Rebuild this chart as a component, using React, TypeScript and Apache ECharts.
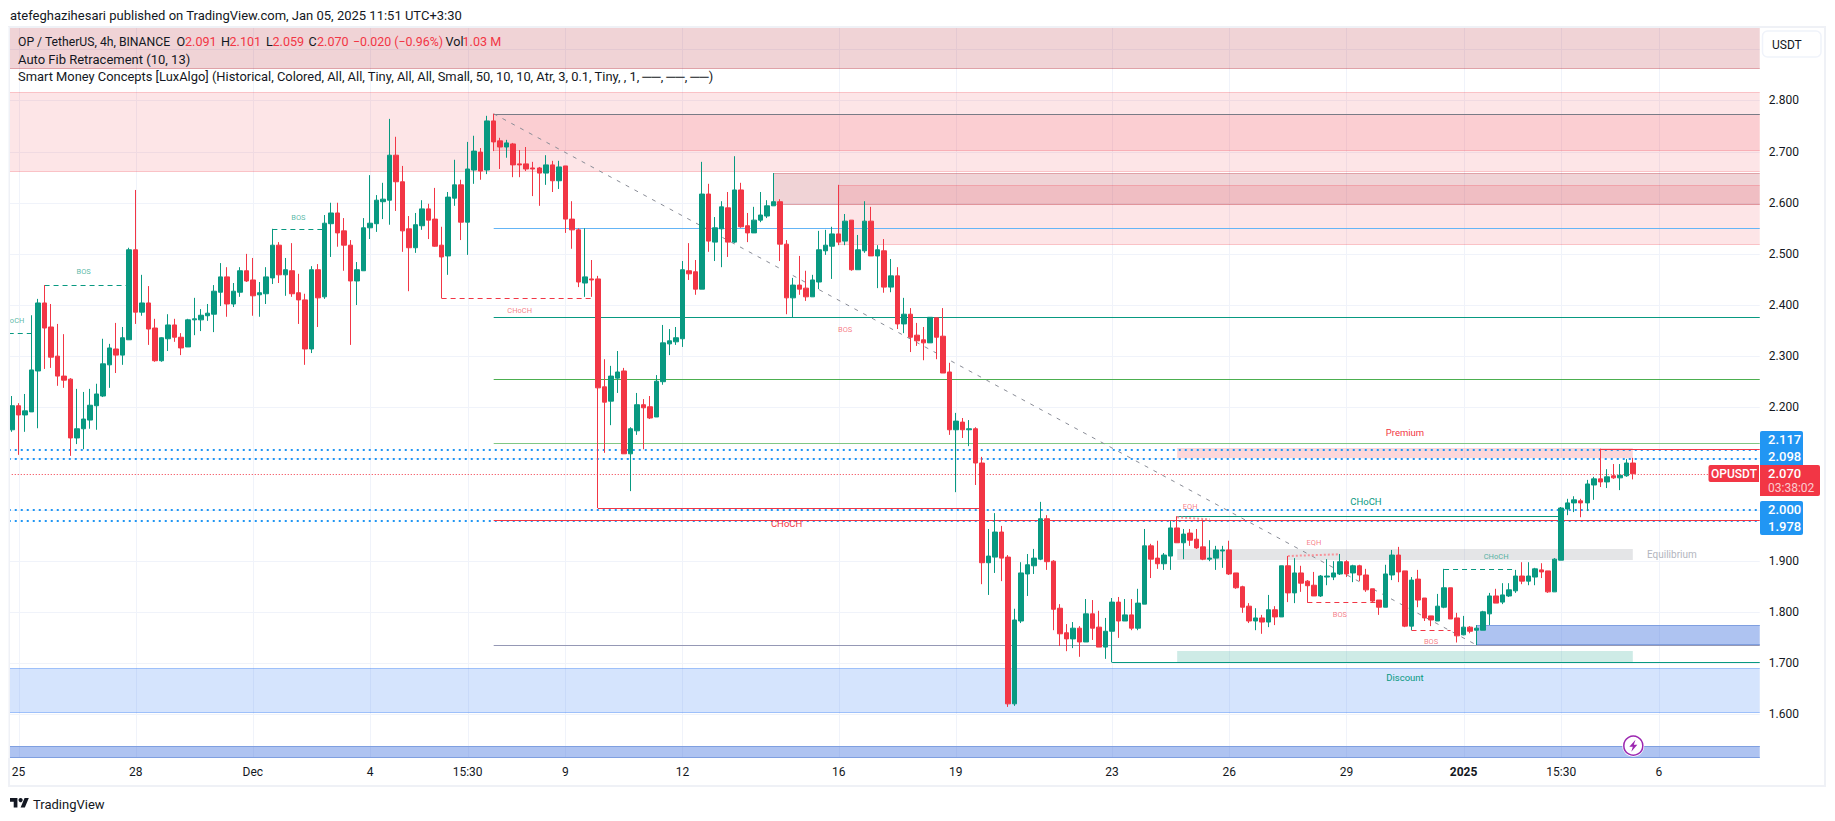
import React, { useEffect, useRef } from "react";
import * as echarts from "echarts";

const opens = [
2.156,2.203,2.185,2.191,2.271,2.404,2.357,2.300,2.261,2.255,
2.140,2.158,2.175,2.203,2.222,2.283,2.314,2.302,2.332,2.508,
2.386,2.404,2.355,2.291,2.334,2.361,2.337,2.318,2.371,2.371,
2.379,2.382,2.425,2.455,2.402,2.425,2.467,2.449,2.420,2.422,
2.453,2.517,2.459,2.467,2.424,2.410,2.314,2.469,2.416,2.559,
2.580,2.545,2.517,2.447,2.467,2.551,2.559,2.602,2.605,2.693,
2.641,2.549,2.512,2.555,2.588,2.568,2.517,2.496,2.609,2.635,
2.562,2.664,2.699,2.664,2.760,2.721,2.709,2.715,2.676,2.676,
2.668,2.668,2.658,2.674,2.643,2.672,2.568,2.547,2.443,2.451,
2.451,2.240,2.212,2.257,2.271,2.109,2.154,2.205,2.201,2.181,
2.250,2.324,2.328,2.334,2.467,2.465,2.431,2.617,2.523,2.549,
2.590,2.523,2.625,2.555,2.541,2.566,2.574,2.594,2.602,2.519,
2.414,2.439,2.433,2.416,2.445,2.506,2.515,2.539,2.525,2.566,
2.469,2.506,2.564,2.496,2.506,2.435,2.457,2.363,2.382,2.341,
2.332,2.326,2.375,2.339,2.269,2.156,2.171,2.156,2.158,2.091,
1.896,1.907,1.956,1.907,1.620,1.782,1.874,1.890,1.903,1.982,
1.899,1.807,1.759,1.747,1.768,1.741,1.796,1.770,1.731,1.762,
1.819,1.782,1.794,1.768,1.815,1.929,1.905,1.894,1.909,1.964,
1.935,1.954,1.942,1.927,1.903,1.905,1.919,1.921,1.876,1.849,
1.811,1.782,1.788,1.780,1.804,1.790,1.890,1.837,1.876,1.860,
1.852,1.831,1.868,1.868,1.874,1.898,1.876,1.890,1.872,1.845,
1.823,1.809,1.872,1.911,1.880,1.772,1.864,1.827,1.792,1.782,
1.809,1.847,1.788,1.755,1.770,1.764,1.764,1.796,1.831,1.819,
1.831,1.841,1.870,1.860,1.868,1.882,1.880,1.839,1.901,2.001,
2.013,2.017,2.013,2.048,2.060,2.054,2.066,2.062,2.066,2.091];

const closes = [
2.203,2.185,2.193,2.273,2.404,2.355,2.298,2.261,2.253,2.140,
2.158,2.177,2.204,2.226,2.285,2.316,2.302,2.336,2.508,2.386,
2.404,2.353,2.291,2.336,2.361,2.337,2.316,2.371,2.373,2.380,
2.384,2.427,2.455,2.402,2.427,2.467,2.447,2.418,2.424,2.455,
2.517,2.459,2.469,2.422,2.410,2.314,2.469,2.414,2.560,2.580,
2.541,2.517,2.447,2.469,2.551,2.560,2.605,2.607,2.693,2.641,
2.545,2.512,2.557,2.588,2.566,2.515,2.494,2.611,2.635,2.562,
2.666,2.701,2.662,2.760,2.719,2.709,2.717,2.674,2.674,2.666,
2.666,2.658,2.674,2.643,2.670,2.568,2.547,2.445,2.455,2.449,
2.238,2.210,2.261,2.269,2.109,2.158,2.205,2.199,2.179,2.251,
2.326,2.330,2.336,2.469,2.461,2.431,2.617,2.525,2.551,2.592,
2.523,2.625,2.553,2.541,2.566,2.576,2.594,2.602,2.519,2.414,
2.439,2.431,2.416,2.449,2.508,2.517,2.539,2.523,2.564,2.469,
2.508,2.564,2.496,2.508,2.435,2.457,2.363,2.382,2.337,2.330,
2.326,2.376,2.337,2.267,2.156,2.173,2.156,2.158,2.091,1.896,
1.909,1.956,1.905,1.620,1.784,1.876,1.892,1.905,1.982,1.898,
1.805,1.757,1.747,1.768,1.741,1.796,1.768,1.731,1.762,1.819,
1.782,1.794,1.768,1.817,1.929,1.903,1.894,1.911,1.964,1.935,
1.952,1.940,1.925,1.903,1.905,1.921,1.921,1.874,1.847,1.809,
1.782,1.788,1.780,1.804,1.790,1.890,1.837,1.876,1.856,1.851,
1.831,1.870,1.870,1.876,1.898,1.874,1.890,1.872,1.843,1.821,
1.809,1.874,1.911,1.878,1.772,1.862,1.823,1.788,1.784,1.811,
1.847,1.786,1.753,1.770,1.762,1.768,1.800,1.831,1.817,1.833,
1.843,1.870,1.860,1.870,1.884,1.878,1.839,1.903,2.003,2.013,
2.019,2.013,2.050,2.060,2.054,2.064,2.062,2.067,2.091,2.070];

const highs = [
2.222,2.208,2.226,2.380,2.412,2.439,2.402,2.363,2.343,2.257,
2.236,2.230,2.236,2.246,2.334,2.324,2.365,2.357,2.512,2.625,
2.459,2.437,2.373,2.337,2.382,2.373,2.345,2.373,2.414,2.392,
2.402,2.439,2.482,2.474,2.443,2.474,2.500,2.492,2.445,2.474,
2.549,2.523,2.492,2.521,2.461,2.422,2.476,2.480,2.576,2.600,
2.600,2.570,2.527,2.484,2.570,2.654,2.615,2.639,2.764,2.729,
2.672,2.574,2.580,2.605,2.598,2.629,2.553,2.621,2.684,2.645,
2.719,2.731,2.707,2.770,2.774,2.727,2.723,2.717,2.703,2.709,
2.680,2.670,2.693,2.682,2.682,2.672,2.603,2.550,2.550,2.488,
2.457,2.294,2.281,2.310,2.277,2.161,2.228,2.216,2.222,2.263,
2.361,2.353,2.357,2.486,2.521,2.488,2.680,2.637,2.572,2.603,
2.621,2.691,2.639,2.580,2.592,2.621,2.605,2.658,2.607,2.527,
2.453,2.496,2.467,2.459,2.545,2.547,2.553,2.635,2.578,2.566,
2.537,2.603,2.592,2.517,2.529,2.490,2.474,2.414,2.394,2.365,
2.357,2.376,2.376,2.394,2.287,2.189,2.179,2.175,2.161,2.103,
1.962,1.993,1.968,1.911,1.806,1.897,1.913,1.923,2.015,1.989,
1.901,1.815,1.776,1.780,1.772,1.825,1.823,1.802,1.788,1.827,
1.829,1.825,1.825,1.845,1.962,1.933,1.939,1.915,1.978,1.987,
1.962,1.962,1.962,1.980,1.940,1.929,1.929,1.939,1.876,1.851,
1.817,1.807,1.794,1.833,1.811,1.890,1.909,1.905,1.890,1.862,
1.878,1.872,1.903,1.899,1.913,1.901,1.892,1.892,1.884,1.845,
1.823,1.892,1.921,1.927,1.880,1.868,1.882,1.827,1.792,1.835,
1.884,1.847,1.798,1.792,1.772,1.774,1.802,1.837,1.845,1.856,
1.856,1.882,1.897,1.897,1.886,1.895,1.880,1.905,2.005,2.021,
2.026,2.021,2.058,2.064,2.119,2.079,2.089,2.089,2.099,2.101];

const lows = [
2.152,2.107,2.152,2.191,2.159,2.275,2.277,2.242,2.238,2.105,
2.128,2.118,2.158,2.156,2.220,2.238,2.267,2.283,2.332,2.363,
2.379,2.322,2.289,2.289,2.310,2.328,2.302,2.318,2.341,2.349,
2.369,2.347,2.398,2.377,2.396,2.416,2.445,2.379,2.377,2.402,
2.441,2.443,2.418,2.416,2.363,2.283,2.306,2.357,2.412,2.494,
2.514,2.467,2.322,2.400,2.467,2.529,2.543,2.568,2.557,2.584,
2.504,2.427,2.502,2.547,2.529,2.514,2.413,2.459,2.594,2.527,
2.498,2.637,2.645,2.656,2.701,2.666,2.688,2.650,2.650,2.662,
2.613,2.594,2.635,2.621,2.627,2.541,2.510,2.435,2.416,2.416,
2.003,2.111,2.165,2.228,2.109,2.036,2.146,2.118,2.177,2.181,
2.244,2.302,2.322,2.318,2.449,2.420,2.431,2.504,2.486,2.474,
2.494,2.521,2.551,2.523,2.541,2.562,2.570,2.594,2.486,2.382,
2.376,2.420,2.408,2.416,2.431,2.498,2.451,2.517,2.517,2.467,
2.469,2.502,2.496,2.433,2.424,2.425,2.353,2.345,2.308,2.320,
2.292,2.326,2.294,2.267,2.146,2.034,2.140,2.124,2.048,1.854,
1.833,1.876,1.860,1.614,1.616,1.778,1.831,1.874,1.901,1.882,
1.764,1.733,1.723,1.729,1.712,1.741,1.745,1.731,1.708,1.701,
1.749,1.782,1.764,1.764,1.815,1.866,1.884,1.882,1.882,1.935,
1.903,1.929,1.923,1.901,1.899,1.882,1.886,1.872,1.845,1.798,
1.778,1.764,1.757,1.770,1.774,1.790,1.819,1.817,1.839,1.818,
1.831,1.829,1.852,1.862,1.872,1.868,1.858,1.860,1.839,1.818,
1.794,1.809,1.862,1.858,1.770,1.764,1.809,1.782,1.772,1.782,
1.807,1.786,1.740,1.754,1.758,1.735,1.764,1.774,1.817,1.815,
1.829,1.837,1.854,1.852,1.852,1.866,1.837,1.839,1.901,1.989,
1.995,1.985,1.997,2.019,2.044,2.042,2.060,2.038,2.064,2.059];

const BAR_SLOTS = 269;
const xTickIndex = [1, 19, 37, 55, 70, 85, 103, 127, 145, 169, 187, 205, 223, 238, 253];
const xTickLabel = ["25", "28", "Dec", "4", "15:30", "9", "12", "16", "19", "23", "26", "29", "2025", "15:30", "6"];
const yGridValues = [1.6, 1.7, 1.8, 1.9, 2.0, 2.1, 2.2, 2.3, 2.4, 2.5, 2.6, 2.7, 2.8, 2.9];
const yLabelValues = [1.6, 1.7, 1.8, 1.9, 2.2, 2.3, 2.4, 2.5, 2.6, 2.7, 2.8];
const PRICE_MIN = 1.5141;
const PRICE_MAX = 2.9437;

// zones: [start bar, end bar (null = pane edge), upper price, lower price]
const zoneTopBand = [null, null, PRICE_MAX, 2.8606];
const zoneSupplyOuter = [null, null, 2.816, 2.6607];
const zoneSupplyInner = [74, null, 2.773, 2.7012];
const zoneOrderBlockA = [117, null, 2.6576, 2.5962];
const zoneOrderBlockB = [127, null, 2.6347, 2.5173];
const zonePremium = [179, 249, 2.1204, 2.1002];
const zoneEquilibrium = [179, 249, 1.9228, 1.9013];
const zoneDiscount = [179, 249, 1.7233, 1.7016];
const zoneDemandOuter = [null, null, 1.6895, 1.6026];
const zoneDemandInner = [225, null, 1.7737, 1.7345];
const zoneBottomBand = [null, null, 1.5383, PRICE_MIN];

// segments: [start bar, start price, end bar, end price]
const fibTop = [74, 2.773, null, 2.773];
const fibBlue = [74, 2.5497, null, 2.5497];
const fibTeal = [74, 2.376, null, 2.376];
const fibGreen = [74, 2.2547, null, 2.2547];
const fibLightGreen = [74, 2.1307, null, 2.1307];
const fibRed = [74, 1.98, null, 1.98];
const fibBottom = [74, 1.7345, null, 1.7345];
const fibDiagonal = [74, 2.774, 225, 1.735];
const alert2117 = [null, 2.117, null, 2.117];
const alert2098 = [null, 2.098, null, 2.098];
const alert2000 = [null, 2.0, null, 2.0];
const alert1978 = [null, 1.978, null, 1.978];
const lastPrice = [null, 2.07, null, 2.07];
const bosGreen1 = [5, 2.4385, 19, 2.4385];
const chochGreenLeft = [null, 2.3447, 3, 2.3447];
const bosGreen2 = [40, 2.549, 48, 2.549];
const chochRedDash = [66, 2.413, 89, 2.413];
const chochRedMain = [90, 2.003, 149, 2.003];
const chochTealMain = [179, 1.9866, 238, 1.9866];
const chochGreenDash = [220, 1.8832, 231, 1.8832];
const bosRed1 = [199, 1.8186, 210, 1.8186];
const bosRed2 = [215, 1.7638, 221, 1.7638];
const lowTeal = [169, 1.7012, null, 1.7012];
const highRed = [244, 2.119, null, 2.119];
const eqh1 = [179, 1.9848, 184, 1.9809];
const eqh2 = [196, 1.9091, 204, 1.9125];

// labels: [text, bar, price]
const labelsSmallGreen = [["CHoCH", 0, 2.3697], ["BOS", 11, 2.4646], ["BOS", 44, 2.5716], ["CHoCH", 228, 1.9085]];
const labelsSmallRed = [["CHoCH", 78, 2.3897], ["BOS", 128, 2.3525], ["EQH", 181, 2.0056], ["EQH", 200, 1.9359], ["BOS", 204, 1.7951], ["BOS", 218, 1.7423]];
const labelsBigRed = [["CHoCH", 119, 1.9723], ["Premium", 214, 2.1503]];
const labelsBigTeal = [["CHoCH", 208, 2.0153], ["Discount", 214, 1.6711]];
const labelsGrey = [["Equilibrium", 255, 1.9117]];

const headerLine = "atefeghazihesari published on TradingView.com, Jan 05, 2025 11:51 UTC+3:30";
const legendLine2 = "Auto Fib Retracement (10, 13)";
const legendLine3 = "Smart Money Concepts [LuxAlgo] (Historical, Colored, All, All, Tiny, All, All, Small, 50, 10, 10, Atr, 3, 0.1, Tiny, , 1, ──, ──, ──)";
const legendBits = [
  ["OP / TetherUS, 4h, BINANCE", 18, "#131722"], ["O", 176.5, "#131722"], ["2.091", 185, "#f23645"],
  ["H", 221, "#131722"], ["2.101", 229.5, "#f23645"], ["L", 266, "#131722"], ["2.059", 272.5, "#f23645"],
  ["C", 308.5, "#131722"], ["2.070", 317, "#f23645"], ["−0.020 (−0.96%)", 353, "#f23645"],
  ["Vol", 445.5, "#131722"], ["1.03 M", 462.5, "#f23645"],
];

const UP = "#089981";
const DOWN = "#f23645";
const PINK = "rgba(242,54,69,0.13)";
const PINK_EDGE = "rgba(242,54,69,0.2)";
const DUSK = "rgba(180,35,50,0.2)";
const DUSK_EDGE = "rgba(180,35,50,0.28)";
const SKY = "rgba(33,110,245,0.19)";
const SKY_EDGE = "rgba(33,110,245,0.3)";
const NAVY = "rgba(75,122,224,0.45)";
const NAVY_EDGE = "#7f9fe0";

const zones = [
  { v: zoneTopBand, fill: DUSK, edge: DUSK_EDGE },
  { v: zoneSupplyOuter, fill: PINK, edge: PINK_EDGE },
  { v: zoneSupplyInner, fill: PINK, edge: PINK_EDGE },
  { v: zoneOrderBlockA, fill: DUSK, edge: DUSK_EDGE },
  { v: zoneOrderBlockB, fill: PINK, edge: PINK_EDGE },
  { v: zonePremium, fill: "rgba(242,54,69,0.2)" },
  { v: zoneEquilibrium, fill: "rgba(120,123,134,0.2)" },
  { v: zoneDiscount, fill: "rgba(8,153,129,0.2)" },
  { v: zoneDemandOuter, fill: SKY, edge: SKY_EDGE },
  { v: zoneDemandInner, fill: NAVY, edge: NAVY_EDGE },
  { v: zoneBottomBand, fill: NAVY, edge: NAVY_EDGE },
];

const DOT = [2, 4];
const DASH = [5, 4];
const segments = [
  { v: fibTop, stroke: "#787b86" },
  { v: fibBlue, stroke: "#64b5f6" },
  { v: fibTeal, stroke: "#089981" },
  { v: fibGreen, stroke: "#4caf50" },
  { v: fibLightGreen, stroke: "#81c784" },
  { v: fibBottom, stroke: "#9598b5" },
  { v: alert2117, stroke: "#2196f3", w: 2, dash: DOT },
  { v: alert2098, stroke: "#2196f3", w: 2, dash: DOT },
  { v: alert2000, stroke: "#2196f3", w: 2, dash: DOT },
  { v: alert1978, stroke: "#2196f3", w: 2, dash: DOT },
  { v: fibRed, stroke: DOWN },
  { v: lastPrice, stroke: DOWN, dash: [1, 2] },
  { v: fibDiagonal, stroke: "#8a8d97", dash: [4, 6] },
  { v: bosGreen1, stroke: UP, dash: DASH },
  { v: chochGreenLeft, stroke: UP, dash: DASH },
  { v: bosGreen2, stroke: UP, dash: DASH },
  { v: chochRedDash, stroke: DOWN, dash: DASH },
  { v: chochRedMain, stroke: DOWN },
  { v: chochTealMain, stroke: UP },
  { v: chochGreenDash, stroke: UP, dash: DASH },
  { v: bosRed1, stroke: DOWN, dash: DASH },
  { v: bosRed2, stroke: DOWN, dash: DASH },
  { v: lowTeal, stroke: UP },
  { v: highRed, stroke: DOWN },
  { v: eqh1, stroke: "#f7939b", w: 2, dash: [2, 2] },
  { v: eqh2, stroke: "#f7939b", w: 2, dash: [2, 2] },
];

const labels = [
  ...labelsSmallGreen.map((l) => ({ l, size: 7.5, fill: "rgba(8,153,129,0.7)" })),
  ...labelsSmallRed.map((l) => ({ l, size: 7.5, fill: "rgba(242,54,69,0.65)" })),
  ...labelsBigRed.map((l) => ({ l, size: 9.5, fill: DOWN })),
  ...labelsBigTeal.map((l) => ({ l, size: 9.5, fill: UP })),
  ...labelsGrey.map((l) => ({ l, size: 10, fill: "#b2b5be" })),
];

const FONT = "Roboto, sans-serif";

function renderGrid(params: any, api: any) {
  const cs = params.coordSys;
  const kids: any[] = [];
  yGridValues.forEach((p) => {
    const y = Math.round(api.coord([0, p])[1]) + 0.5;
    kids.push({ type: "line", shape: { x1: cs.x, y1: y, x2: cs.x + cs.width, y2: y }, style: { stroke: "#f0f3fa", lineWidth: 1 } });
  });
  xTickIndex.forEach((i) => {
    const x = Math.round(api.coord([i, PRICE_MIN])[0]) + 0.5;
    kids.push({ type: "line", shape: { x1: x, y1: cs.y, x2: x, y2: cs.y + cs.height }, style: { stroke: "#f0f3fa", lineWidth: 1 } });
  });
  return { type: "group", children: kids };
}

function renderZone(params: any, api: any) {
  const z = zones[params.dataIndex];
  const cs = params.coordSys;
  const [a, b, top, bottom] = z.v as any[];
  const x0 = a == null ? cs.x : api.coord([a, top])[0];
  const x1 = b == null ? cs.x + cs.width : api.coord([b, top])[0];
  const y0 = Math.round(api.coord([0, top])[1]);
  const y1 = Math.round(api.coord([0, bottom])[1]);
  const kids: any[] = [{ type: "rect", shape: { x: x0, y: y0, width: x1 - x0, height: y1 - y0 }, style: { fill: z.fill } }];
  if (z.edge) {
    [y0 + 0.5, y1 - 0.5].forEach((y) =>
      kids.push({ type: "line", shape: { x1: x0, y1: y, x2: x1, y2: y }, style: { stroke: z.edge, lineWidth: 1 } })
    );
  }
  return { type: "group", children: kids };
}

function renderSegment(params: any, api: any) {
  const s = segments[params.dataIndex] as any;
  const cs = params.coordSys;
  const [a, pa, b, pb] = s.v as any[];
  const w = s.w ?? 1;
  const x1 = a == null ? cs.x : api.coord([a, pa])[0];
  const x2 = b == null ? cs.x + cs.width : api.coord([b, pb])[0];
  let y1 = api.coord([0, pa])[1];
  let y2 = api.coord([0, pb])[1];
  if (pa === pb) {
    y1 = y2 = w === 1 ? Math.round(y1) + 0.5 : Math.round(y1);
  }
  return { type: "line", shape: { x1, y1, x2, y2 }, style: { stroke: s.stroke, lineWidth: w, lineDash: s.dash } };
}

function renderLabel(params: any, api: any) {
  const { l, size, fill } = labels[params.dataIndex] as any;
  const [x, y] = api.coord([l[1], l[2]]);
  return { type: "text", style: { text: l[0], x, y, fill, font: `${size}px ${FONT}`, textAlign: "center", textVerticalAlign: "middle" } };
}

const txt = (text: string, x: number, y: number, fill: string, size: number, extra: any = {}) => ({
  type: "text", x, y, z: 110,
  style: { text, fill, font: `${extra.weight ?? "normal"} ${size}px ${FONT}`, textAlign: extra.align ?? "left", textVerticalAlign: "middle" },
});

function chrome() {
  const boxes = [
    { type: "rect", z: 99, shape: { x: 0, y: 27, width: 8.5, height: 731 }, style: { fill: "#fff" } },
    { type: "rect", z: 98, shape: { x: 9, y: 27, width: 1816, height: 759 }, style: { fill: "none", stroke: "#eff1f6", lineWidth: 2 } },
    { type: "rect", z: 100, shape: { x: 1762.5, y: 31, width: 58.5, height: 26, r: 5 }, style: { fill: "#fff", stroke: "#f0f3fa", lineWidth: 1.5 } },
    { type: "rect", z: 100, shape: { x: 1760, y: 431, width: 43, height: 34, r: [2, 2, 0, 0] }, style: { fill: "#2196f3" } },
    { type: "rect", z: 100, shape: { x: 1760, y: 501, width: 43, height: 34, r: 2 }, style: { fill: "#2196f3" } },
    { type: "rect", z: 101, shape: { x: 1708.5, y: 465, width: 50.5, height: 17, r: [2, 0, 0, 2] }, style: { fill: DOWN } },
    { type: "rect", z: 101, shape: { x: 1760, y: 465, width: 60, height: 31, r: [0, 2, 2, 0] }, style: { fill: DOWN } },
  ];
  const sizeFor = (b: any[]) => (b[0] === "OP / TetherUS, 4h, BINANCE" ? 12.2 : b[0] === "−0.020 (−0.96%)" ? 12.4 : 12.6);
  const texts = [
    txt(headerLine, 10, 15, "#131722", 13),
    ...legendBits.map((b) => txt(b[0] as string, b[1] as number, 41.5, b[2] as string, sizeFor(b))),
    txt(legendLine2, 18, 59, "#131722", 13),
    txt(legendLine3, 18, 76, "#131722", 12.9),
    txt("USDT", 1772, 44.5, "#131722", 12),
    txt("2.117", 1768, 439.7, "#fff", 13, { weight: 500 }),
    txt("2.098", 1768, 456.7, "#fff", 13, { weight: 500 }),
    txt("OPUSDT", 1734, 474, "#fff", 12, { align: "center", weight: 500 }),
    txt("2.070", 1768, 473.7, "#fff", 13, { weight: 500 }),
    txt("03:38:02", 1768, 488, "rgba(255,255,255,0.75)", 12),
    txt("2.000", 1768, 509.7, "#fff", 13, { weight: 500 }),
    txt("1.978", 1768, 526.7, "#fff", 13, { weight: 500 }),
    txt("TradingView", 33, 804, "#131722", 13),
  ];
  const logo = [
    { type: "tvlogo", x: 10, y: 794.3, scaleX: 0.53, scaleY: 0.53, z: 100, style: { fill: "#131722" } },
    { type: "circle", z: 100, shape: { cx: 20.6, cy: 800.1, r: 2.1 }, style: { fill: "#131722" } },
  ];
  const bolt = [
    { type: "circle", z: 102, shape: { cx: 1633.3, cy: 745.7, r: 11 }, style: { fill: "#fff" } },
    { type: "circle", z: 103, shape: { cx: 1633.3, cy: 745.7, r: 9.5 }, style: { fill: "#fff", stroke: "#9c27b0", lineWidth: 1.5 } },
    {
      type: "polygon", z: 104,
      shape: { points: [[1635.5, 739.7], [1629.3, 746.7], [1632.8, 746.7], [1631.3, 751.7], [1637.3, 744.7], [1633.8, 744.7]] },
      style: { fill: "#9c27b0" },
    },
  ];
  return [...boxes, ...texts, ...logo, ...bolt];
}

echarts.graphic.registerShape("tvlogo", echarts.graphic.extendPath("M14 25H7V14H0V7h14v18zM28 25h-8l7.5-18h8L28 25z", {}) as any);

export default function App() {
  const ref = useRef<HTMLDivElement>(null);
  useEffect(() => {
    const chart = echarts.init(ref.current!, undefined, { renderer: "svg" });
    const categories = Array.from({ length: BAR_SLOTS }, (_, i) => {
      const k = xTickIndex.indexOf(i);
      return k >= 0 ? xTickLabel[k] : String(i);
    });
    const tickSet = new Set(xTickIndex);
    const candles = opens.map((o, i) => [o, closes[i], lows[i], highs[i]]);
    const custom = (renderItem: any, count: number, z: number) => ({
      type: "custom", renderItem, z, silent: true, clip: false,
      data: Array.from({ length: count }, (_, i) => [i, PRICE_MIN]),
      encode: { x: 0, y: 1 },
    });
    chart.setOption({
      animation: false,
      backgroundColor: "#ffffff",
      grid: { left: 8.75, top: 27, width: 1751, height: 731, containLabel: false },
      xAxis: {
        type: "category",
        data: categories,
        boundaryGap: true,
        axisLine: { show: false },
        axisTick: { show: false },
        splitLine: { show: false },
        axisLabel: {
          interval: (i: number) => tickSet.has(i),
          margin: 8,
          color: "#131722",
          fontSize: 12,
          fontFamily: FONT,
          hideOverlap: false,
          formatter: (v: string) => (v === "2025" ? "{b|2025}" : v),
          rich: { b: { fontWeight: "bold", fontSize: 12, fontFamily: FONT, color: "#131722" } },
        },
      },
      yAxis: {
        type: "value",
        position: "right",
        min: PRICE_MIN,
        max: PRICE_MAX,
        scale: true,
        axisLine: { show: false },
        axisTick: { show: false },
        splitLine: { show: false },
        axisLabel: {
          customValues: yLabelValues,
          margin: 9,
          color: "#131722",
          fontSize: 12,
          fontFamily: FONT,
          formatter: (v: number) => v.toFixed(3),
        },
      },
      series: [
        custom(renderGrid, 1, 0),
        custom(renderZone, zones.length, 1),
        custom(renderSegment, segments.length, 2),
        {
          type: "candlestick",
          z: 3,
          silent: true,
          barWidth: 5,
          data: candles,
          itemStyle: { color: UP, color0: DOWN, borderColor: UP, borderColor0: DOWN, borderWidth: 1 },
        },
        custom(renderLabel, labels.length, 4),
      ],
      graphic: { elements: chrome() },
    });
    return () => chart.dispose();
  }, []);
  return <div ref={ref} style={{ position: "absolute", left: 0, top: 0, width: 1835, height: 821 }} />;
}
